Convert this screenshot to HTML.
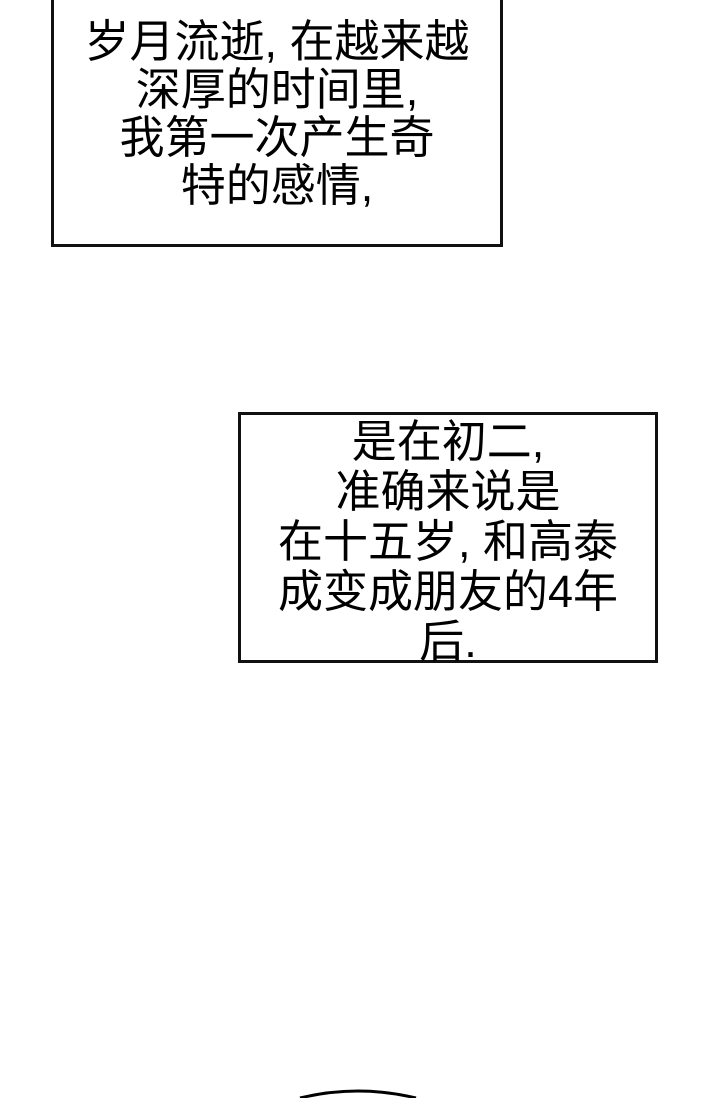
<!DOCTYPE html>
<html><head><meta charset="utf-8"><style>
body{margin:0;width:720px;height:1098px;background:#fff;position:relative;overflow:hidden;font-family:"Liberation Sans","Noto Sans CJK SC",sans-serif;color:#000}
.b{position:absolute;border:3px solid #111;box-sizing:border-box;text-align:center;font-size:45px;font-weight:normal}
.b div{position:absolute;left:0;right:0;white-space:nowrap}
</style></head><body>
<div class="b" style="left:51px;top:-10px;width:452px;height:257px">
<div style="top:25px;line-height:48px">岁月流逝, 在越来越<br>深厚的时间里,<br>我第一次产生奇<br>特的感情,</div>
</div>
<div class="b" style="left:238px;top:412px;width:420px;height:251px">
<div style="top:2px;line-height:50px">是在初二,<br>准确来说是<br>在十五岁, 和高泰<br>成变成朋友的4年<br>后.</div>
</div>
<svg style="position:absolute;left:0;top:0" width="720" height="1098"><path d="M300 1098 Q358 1084 416 1098" stroke="#000" stroke-width="3" fill="none"/></svg>
</body></html>
